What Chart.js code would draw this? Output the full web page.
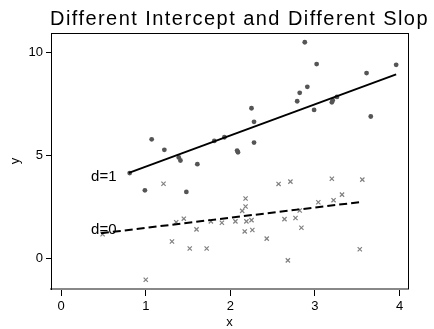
<!DOCTYPE html>
<html>
<head>
<meta charset="utf-8">
<script src="https://cdn.jsdelivr.net/npm/chart.js@4/dist/chart.umd.min.js"></script>
<style>
  html, body { margin: 0; padding: 0; background: #fff; }
  #wrap { width: 434px; height: 329px; }
</style>
</head>
<body>
<div id="wrap"><canvas id="chart" width="434" height="329"></canvas></div>
<script>
// group d=1 (dots)
const d1X = [0.81, 1.07, 1.22, 1.39, 1.41, 1.61, 1.81, 1.93, 2.08, 2.09, 0.99, 1.48, 2.88, 3.02,
  3.96, 3.61, 2.91, 2.82, 2.79, 2.25, 3.21, 3.20, 3.26, 2.99, 2.28, 3.66, 2.28];
const d1Y = [4.14, 5.78, 5.27, 4.90, 4.75, 4.57, 5.70, 5.88, 5.23, 5.15, 3.30, 3.22, 10.50, 9.44,
  9.40, 9.00, 8.33, 8.04, 7.63, 7.29, 7.68, 7.58, 7.84, 7.21, 6.63, 6.89, 5.62];

// group d=0 (crosses)
const d0X = [0.49, 1.21, 1.00, 1.31, 1.52, 1.72, 1.36, 1.45, 1.60, 1.77, 1.90, 2.06, 2.19, 2.25,
  2.17, 2.26, 2.14, 2.18, 2.18, 2.43, 2.57, 2.71, 2.64, 2.68, 2.77, 2.82, 2.84, 3.04, 3.20, 3.22,
  3.32, 3.56, 3.53];
const d0Y = [1.16, 3.62, -1.05, 0.81, 0.47, 0.47, 1.75, 1.92, 1.40, 1.79, 1.72, 1.79, 1.79, 1.85,
  1.30, 1.37, 2.30, 2.51, 2.90, 0.95, 3.61, 3.72, 1.90, -0.11, 1.95, 2.32, 1.48, 2.72, 3.86, 2.82,
  3.09, 3.82, 0.43];

// fitted lines (end points)
const fit1X = [0.80, 3.96];
const fit1Y = [4.15, 8.94];
const fit0X = [0.47, 3.56];
const fit0Y = [1.21, 2.74];

const xTicks = [0, 1, 2, 3, 4];
const yTicks = [0, 5, 10];

const lineLabels = ['d=1', 'd=0'];
const lineLabelX = [0.354, 0.354];
const lineLabelY = [3.94, 1.39];

const titleText = 'Different Intercept and Different Slop';

const pts = (xs, ys) => xs.map((x, i) => ({ x, y: ys[i] }));

const FONT = '"Liberation Sans", Arial, sans-serif';

const extras = {
  id: 'extras',
  afterDraw(chart) {
    const { ctx, chartArea: a, scales } = chart;
    ctx.save();
    ctx.setLineDash([]);
    ctx.globalAlpha = 1;
    // frame top + right
    ctx.fillStyle = '#000';
    ctx.fillRect(Math.round(a.left), Math.round(a.top), Math.round(a.right - a.left) + 1, 1);
    ctx.fillRect(Math.round(a.right), Math.round(a.top), 1, Math.round(a.bottom - a.top));
    // line labels
    ctx.font = '15px ' + FONT;
    ctx.textAlign = 'left';
    ctx.textBaseline = 'middle';
    lineLabels.forEach((t, i) => {
      ctx.fillText(t, scales.x.getPixelForValue(lineLabelX[i]), scales.y.getPixelForValue(lineLabelY[i]));
    });
    // title
    ctx.font = '20px ' + FONT;
    ctx.letterSpacing = '1.45px';
    ctx.textBaseline = 'alphabetic';
    ctx.fillText(titleText, 50, 25);
    ctx.restore();
  }
};

new Chart(document.getElementById('chart'), {
  type: 'scatter',
  data: {
    datasets: [
      {
        type: 'line',
        data: pts(fit1X, fit1Y),
        borderColor: '#000',
        borderWidth: 2,
        pointRadius: 0,
        fill: false,
      },
      {
        type: 'line',
        data: pts(fit0X, fit0Y),
        borderColor: '#000',
        borderWidth: 2,
        borderDash: [8, 4],
        pointRadius: 0,
        fill: false,
      },
      {
        data: pts(d1X, d1Y),
        pointStyle: 'circle',
        pointRadius: 2.4,
        backgroundColor: '#555',
        borderColor: '#555',
        borderWidth: 0,
      },
      {
        data: pts(d0X, d0Y),
        pointStyle: 'crossRot',
        pointRadius: 3,
        borderColor: '#808080',
        borderWidth: 1.2,
      }
    ]
  },
  options: {
    responsive: false,
    animation: false,
    layout: { padding: { top: 33, right: 26, left: 0, bottom: 0 } },
    plugins: {
      legend: { display: false },
      tooltip: { enabled: false },
    },
    scales: {
      x: {
        type: 'linear',
        min: -0.12,
        max: 4.1,
        afterBuildTicks: s => { s.ticks = xTicks.map(v => ({ value: v })); },
        afterFit: s => { s.height = 40; },
        border: { display: true, color: '#888', width: 2 },
        grid: { drawOnChartArea: false, drawTicks: true, tickLength: 7, color: '#000' },
        ticks: { color: '#000', font: { family: FONT, size: 13 }, padding: 3, maxRotation: 0 },
        title: {
          display: true, text: 'x', color: '#000',
          font: { family: FONT, size: 13, lineHeight: 1 },
          padding: { top: 0, bottom: 0 }
        }
      },
      y: {
        type: 'linear',
        min: -1.5,
        max: 10.95,
        afterBuildTicks: s => { s.ticks = yTicks.map(v => ({ value: v })); },
        afterFit: s => { s.width = 51; },
        border: { display: true, color: '#000', width: 1 },
        grid: { drawOnChartArea: false, drawTicks: true, tickLength: 5, color: '#000' },
        ticks: { color: '#000', font: { family: FONT, size: 13 }, padding: 3 },
        title: {
          display: true, text: 'y', color: '#000',
          font: { family: FONT, size: 13 },
          padding: { top: 8, bottom: 0 }
        }
      }
    }
  },
  plugins: [extras]
});
</script>
</body>
</html>
